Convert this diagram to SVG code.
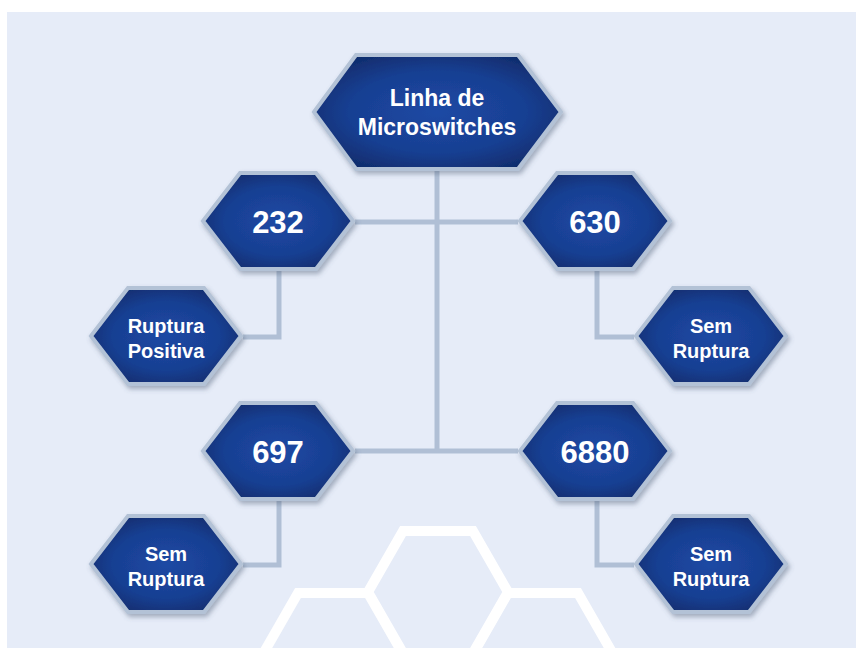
<svg xmlns="http://www.w3.org/2000/svg" width="856" height="648" viewBox="0 0 856 648">
<defs>
<radialGradient id="hexFill" cx="50%" cy="50%" r="60%">
<stop offset="0%" stop-color="#1d49a4"/>
<stop offset="60%" stop-color="#183f92"/>
<stop offset="100%" stop-color="#0f2a68"/>
</radialGradient>
<filter id="shadow" x="-20%" y="-20%" width="150%" height="150%">
<feDropShadow dx="2" dy="3" stdDeviation="2.5" flood-color="#4a5a74" flood-opacity="0.45"/>
</filter>
<polygon id="hexS" points="-75,0 -38,-48 38,-48 75,0 38,48 -38,48"/>
</defs>
<style>
.hex{fill:url(#hexFill);stroke:#b3c2d6;stroke-width:4;stroke-linejoin:miter;filter:url(#shadow)}
.conn{fill:none;stroke:#b0bfd5;stroke-width:5}
.deco{fill:none;stroke:#ffffff;stroke-width:10}
.t{font-family:"Liberation Sans",Arial,sans-serif;font-weight:bold;fill:#ffffff;text-anchor:middle}
.big{font-size:23px}
.num{font-size:31px}
.sm{font-size:20px}
</style>
<rect x="0" y="0" width="856" height="648" fill="#ffffff"/>
<rect x="7" y="12" width="849" height="636" fill="#e6ecf8"/>
<g id="decoration">
<polygon class="deco" points="368,592 403,531 473,531 508,592 473,653 403,653"/>
<polygon class="deco" points="263,654 298,593 368,593 403,654 368,715 298,715"/>
<polygon class="deco" points="473,654 508,593 578,593 613,654 578,715 508,715"/>
</g>
<g id="connectors">
<path class="conn" d="M437,171 V451"/>
<path class="conn" d="M355,222 H518"/>
<path class="conn" d="M355,451 H518"/>
<path class="conn" d="M279,270 V337 H243"/>
<path class="conn" d="M597,270 V337 H634"/>
<path class="conn" d="M279,500 V565 H243"/>
<path class="conn" d="M597,500 V565 H634"/>
</g>
<g id="node-linha">
<polygon class="hex" points="314,112 356,55 518,55 561,112 518,169 356,169"/>
<text class="t big" x="437" y="106">Linha de</text>
<text class="t big" x="437" y="135">Microswitches</text>
</g>
<g id="node-232">
<use href="#hexS" class="hex" x="278" y="221"/>
<text class="t num" x="278" y="233">232</text>
</g>
<g id="node-630">
<use href="#hexS" class="hex" x="595" y="221"/>
<text class="t num" x="595" y="233">630</text>
</g>
<g id="node-ruptura-positiva">
<use href="#hexS" class="hex" x="166" y="336"/>
<text class="t sm" x="166" y="333">Ruptura</text>
<text class="t sm" x="166" y="358">Positiva</text>
</g>
<g id="node-sem-ruptura-1">
<use href="#hexS" class="hex" x="711" y="336"/>
<text class="t sm" x="711" y="333">Sem</text>
<text class="t sm" x="711" y="358">Ruptura</text>
</g>
<g id="node-697">
<use href="#hexS" class="hex" x="278" y="451"/>
<text class="t num" x="278" y="463">697</text>
</g>
<g id="node-6880">
<use href="#hexS" class="hex" x="595" y="451"/>
<text class="t num" x="595" y="463">6880</text>
</g>
<g id="node-sem-ruptura-2">
<use href="#hexS" class="hex" x="166" y="564"/>
<text class="t sm" x="166" y="561">Sem</text>
<text class="t sm" x="166" y="586">Ruptura</text>
</g>
<g id="node-sem-ruptura-3">
<use href="#hexS" class="hex" x="711" y="564"/>
<text class="t sm" x="711" y="561">Sem</text>
<text class="t sm" x="711" y="586">Ruptura</text>
</g>
</svg>
